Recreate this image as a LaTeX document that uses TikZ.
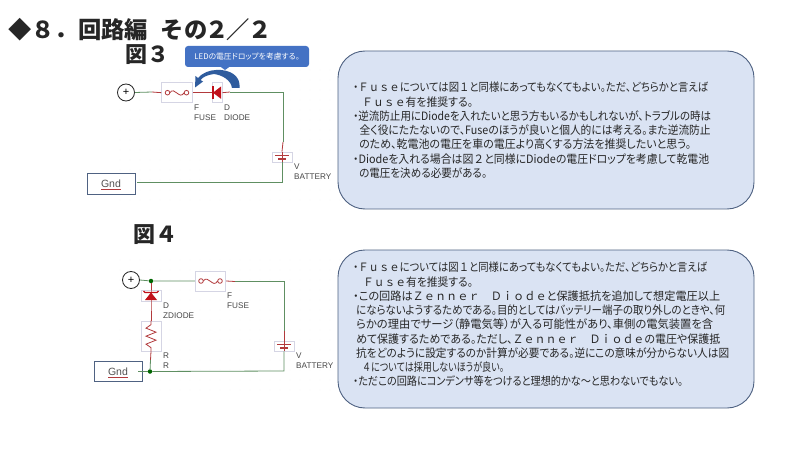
\documentclass[tikz,border=0pt]{standalone}
\usepackage{fontspec}
\setmainfont{Liberation Sans}
\newfontfamily\jp[RawFeature=+palt]{Noto Sans CJK JP}
\newfontfamily\jpw{Noto Sans CJK JP}
\newcommand{\wid}[1]{{\jpw #1}}
\newcommand{\fl}[2]{\resizebox{#1pt}{\height}{#2}}
\definecolor{wgreen}{HTML}{5F8F62}
\definecolor{wred}{HTML}{B23A3C}
\definecolor{pred}{HTML}{C0101A}
\definecolor{pbox}{HTML}{D5D5E4}
\definecolor{notefill}{HTML}{DAE3F3}
\definecolor{noteline}{HTML}{4F6282}
\definecolor{callblue}{HTML}{4472C4}
\definecolor{arcblue}{HTML}{2F5C9E}
\definecolor{ink}{HTML}{262626}
\tikzset{
 wiregreen/.style={draw=wgreen,line width=0.8pt},
 wirered/.style={draw=wred,line width=0.8pt},
 partbox/.style={draw=pbox,fill=white,line width=0.7pt,inner sep=0pt},
 gndbox/.style={draw=noteline,line width=0.8pt,fill=white,minimum width=48pt,minimum height=20.5pt,inner sep=0pt,text=ink!80,font=\fontsize{10.5}{12}\selectfont},
 pluscirc/.style={circle,draw=ink,line width=0.8pt,fill=white,minimum size=17pt,inner sep=0pt,font=\fontsize{11}{11}\selectfont},
 lab/.style={anchor=north west,inner sep=0pt,align=left,text=ink!85,font=\fontsize{8.2}{10}\selectfont},
 note/.style={draw=noteline,line width=0.9pt,fill=notefill,rounded corners=27pt,minimum width=416pt,minimum height=158pt},
 notetext/.style={anchor=north west,inner sep=0pt,align=left,text=ink,font=\jp\fontsize{11.5}{14.25}\selectfont},
 fig/.style={inner sep=0pt,font=\jpw\bfseries\fontsize{22}{24}\selectfont,text=ink},
 gridfaint/.style={fill=gray!14},
 dotn/.style={circle,fill=green!40!black,minimum size=4.5pt,inner sep=0pt}
}
\newcommand{\fusesym}[1]{% at node centre
 \draw[wirered] ([xshift=-9.5pt]#1.center) circle (2.3pt);
 \draw[wirered] ([xshift=9.5pt]#1.center) circle (2.3pt);
 \draw[wirered] ([xshift=-7.2pt]#1.center) .. controls +(5pt,7pt) and +(-5pt,-8pt) .. ([xshift=7.2pt]#1.center);
}
\newcommand{\batsym}[1]{%
 \draw[wred,line width=0.8pt] ([xshift=-7pt,yshift=1.8pt]#1.center) -- ([xshift=7pt,yshift=1.8pt]#1.center);
 \draw[wred,line width=1.6pt] ([xshift=-4pt,yshift=-1.8pt]#1.center) -- ([xshift=4pt,yshift=-1.8pt]#1.center);
}
\begin{document}
\begin{tikzpicture}[x=1pt,y=-1pt]
\useasboundingbox (0,0) rectangle (800,449);
\fill[white] (0,0) rectangle (800,449);
% faint grid
\foreach \x in {120,130,...,340}{\foreach \y in {70,80,...,200}{\fill[gridfaint] (\x,\y) circle (0.4pt);}
 \foreach \y in {260,270,...,390}{\fill[gridfaint] (\x,\y) circle (0.4pt);}}
% titles
\node[anchor=west,inner sep=0pt,font=\jpw\bfseries\fontsize{23.3}{25}\selectfont,text=ink] (title) at (8,29.5) {◆８．回路編\hspace{13pt}その\hspace{-2pt}２\hspace{-2pt}／\hspace{-2pt}２};
\node[fig,anchor=center] (fig3) at (147.5,55) {図３};
\node[fig,anchor=center] (fig4) at (155.5,235) {図４};

% ---- figure 3
\node[pluscirc] (p3) at (126,92.5) {+};
\node[partbox,minimum width=30.5pt,minimum height=20pt] (f3) at (177,92.7) {};
\node[partbox,minimum width=10pt,minimum height=20pt] (d3) at (217,92.7) {};
\node[partbox,minimum width=20pt,minimum height=10pt] (v3) at (282,157) {};
\node[gndbox] (g3) at (111,184) {Gnd};
\coordinate (c3a) at (152,92);
\coordinate (c3b) at (230,92);
\coordinate (c3c) at (283,92);
\coordinate (c3d) at (283,142);
\coordinate (c3e) at (282,182.7);
\coordinate (c3f) at (137,182.7);
\draw[wiregreen] (p3.east) -- (c3a);
\draw[wirered] (c3a) -- (f3.west);
\draw[wirered] (f3.east) -- (d3.west);
\draw[wirered] (d3.east) -- (c3b);
\draw[wiregreen] (c3b) -- (c3c) -- (c3d);
\draw[wirered] (c3d) -- (v3.north);
\draw[wirered] (v3.north) -- (v3.south);
\draw[wiregreen] (v3.south) -- (c3e) -- (c3f);
\fill[pred] (213,92.7) -- (221,86.5) -- (221,98.8) -- cycle;
\draw[pred,line width=1.1pt] (213,86.5) -- (213,98.8);
\fusesym{f3}
\batsym{v3}
\draw[wred,line width=0.5pt] (101,189.5) -- (121,189.5);
\node[lab] (lf3) at (194,105) {F\\FUSE};
\node[lab] (ld3) at (224,105) {D\\DIODE};
\node[lab] (lv3) at (294,163.5) {V\\BATTERY};
% callout
\fill[callblue] (218,65) -- (232,65) -- (225,70) -- cycle;
\node[fill=callblue,rounded corners=3pt,minimum width=124pt,minimum height=21pt,inner sep=0pt,text=white,font=\jp\fontsize{7.8}{9}\selectfont] (call) at (247,56.5) {LEDの電圧ドロップを考慮する。};
\fill[arcblue] (239.5,88) .. controls (241,76) and (230,69) .. (216,70) .. controls (210,70) and (202,73) .. (198,78)
 -- (195.5,76) -- (195,87.5) -- (203,81.5) -- (200.5,80) .. controls (203,77) and (207,75) .. (214,74)
 .. controls (222,75) and (231,80) .. (232,88) -- cycle;

% ---- figure 4
\node[pluscirc] (p4) at (131,280) {+};
\node[dotn] (n4a) at (151,281) {};
\node[partbox,minimum width=30.5pt,minimum height=20pt] (f4) at (210.5,281) {};
\node[partbox,minimum width=20pt,minimum height=11pt] (z4) at (151,295.5) {};
\node[partbox,minimum width=20pt,minimum height=30pt] (r4) at (151,336) {};
\node[partbox,minimum width=20pt,minimum height=10pt] (v4) at (284,346) {};
\node[gndbox] (g4) at (118,371.5) {Gnd};
\node[dotn] (n4b) at (150,371.5) {};
\coordinate (c4a) at (284,281.5);
\coordinate (c4b) at (284,331);
\coordinate (c4c) at (284,371);
\coordinate (c4d) at (138,371.5);
\coordinate (c4e) at (150.5,360);
\coordinate (c4f) at (235,281.5);
\draw[wiregreen] (p4.east) -- (n4a) -- (f4.west);
\draw[wirered] (f4.east) -- (c4f);
\draw[wiregreen] (c4f) -- (c4a) -- (c4b);
\draw[wirered] (c4b) -- (v4.south);
\draw[wiregreen] (v4.south) -- (c4c) -- (n4b);
\draw[wiregreen] (n4b) -- (c4d);
\draw[wirered] (n4a) -- (z4.north);
\draw[wirered] (z4.north) -- (z4.south) -- (r4.north);
\draw[wirered] (r4.north) -- ++(0,4) -- ++(-5,3.5) -- ++(10,4) -- ++(-10,4) -- ++(10,4) -- ++(-10,4) -- ++(5,3.5) -- (r4.south);
\draw[wirered] (r4.south) -- (c4e);
\draw[wiregreen] (c4e) -- (n4b);
\fill[pred] (151,292.5) -- (145,300) -- (157,300) -- cycle;
\draw[pred,line width=1.1pt] (143.5,291) -- (145,292.5) -- (157,292.5) -- (158.5,291);
\fusesym{f4}
\batsym{v4}
\draw[wred,line width=0.5pt] (108,377) -- (128,377);
\node[lab] (lz4) at (163,303) {D\\ZDIODE};
\node[lab] (lr4) at (163,353) {R\\R};
\node[lab] (lf4) at (227,293) {F\\FUSE};
\node[lab] (lv4) at (296,353) {V\\BATTERY};

% ---- notes
\node[note] (n1) at (546,130) {};
\node[notetext] (t1) at (353,82) {%
\fl{355}{・\wid{Ｆｕｓｅ}については図\wid{１}と同様にあってもなくてもよい。ただ、どちらかと言えば}\\
\hspace*{9pt}\fl{111}{\wid{Ｆｕｓｅ}有を推奨する。}\\
\fl{358}{・逆流防止用にDiodeを入れたいと思う方もいるかもしれないが、トラブルの時は}\\
\hspace*{6.5pt}\fl{351}{全く役にたたないので、Fuseのほうが良いと個人的には考える。また逆流防止}\\
\hspace*{6pt}\fl{332}{のため、乾電池の電圧を車の電圧より高くする方法を推奨したいと思う。}\\
\fl{356}{・Diodeを入れる場合は図\wid{２}と同様にDiodeの電圧ドロップを考慮して乾電池}\\
\hspace*{6pt}\fl{128}{の電圧を決める必要がある。}};
\node[note] (n2) at (546,329) {};
\node[notetext] (t2) at (353,262) {%
\fl{354}{・\wid{Ｆｕｓｅ}については図\wid{１}と同様にあってもなくてもよい。ただ、どちらかと言えば}\\
\hspace*{10pt}\fl{110}{\wid{Ｆｕｓｅ}有を推奨する。}\\
\fl{367}{・この回路は\wid{Ｚｅｎｎｅｒ　Ｄｉｏｄｅ}と保護抵抗を追加して想定電圧以上}\\
\hspace*{3pt}\fl{369}{にならないようするためである。目的としてはバッテリー端子の取り外しのときや、何}\\
\hspace*{3pt}\fl{357}{らかの理由でサージ（静電気等）が入る可能性があり、車側の電気装置を含}\\
\hspace*{3pt}\fl{364}{めて保護するためである。ただし、\wid{Ｚｅｎｎｅｒ　Ｄｉｏｄｅ}の電圧や保護抵}\\
\hspace*{3pt}\fl{373}{抗をどのように設定するのか計算が必要である。逆にこの意味が分からない人は図}\\
\hspace*{9pt}\fl{142}{\wid{４}については採用しないほうが良い。}\\
\fl{330}{・ただこの回路にコンデンサ等をつけると理想的かな～と思わないでもない。}};
\end{tikzpicture}
\end{document}
